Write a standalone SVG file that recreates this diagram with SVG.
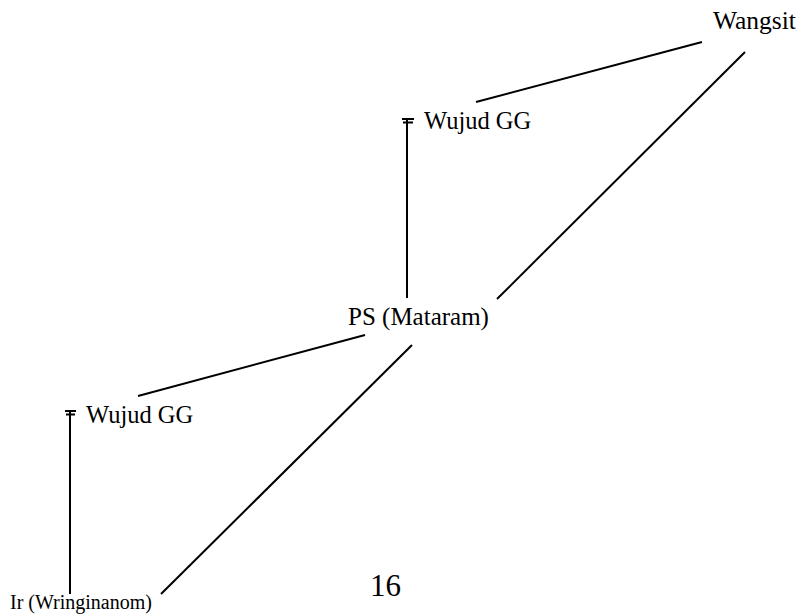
<svg xmlns="http://www.w3.org/2000/svg" width="805" height="614" viewBox="0 0 805 614">
<style>
text{font-family:"Liberation Serif","Times New Roman",serif;fill:#000}
.c line{stroke:#000;stroke-width:2;fill:none}
</style>
<rect width="805" height="614" fill="#fff"/>
<g class="c" id="connectors">
<line x1="476" y1="102" x2="702" y2="42"/>
<line x1="497" y1="299" x2="745" y2="52"/>
<line x1="407" y1="119" x2="407" y2="298"/>
<line x1="402" y1="119" x2="414" y2="119"/>
<line x1="403" y1="122.5" x2="413" y2="122.5"/>
<line x1="365" y1="335" x2="138" y2="396"/>
<line x1="412" y1="345" x2="161" y2="594"/>
<line x1="70" y1="411" x2="70" y2="594"/>
<line x1="65" y1="411" x2="76" y2="411"/>
<line x1="66" y1="414.5" x2="75" y2="414.5"/>
</g>
<g id="wangsit"><text x="713" y="29" font-size="25.5">Wangsit</text></g>
<g id="wujud-top"><text x="424" y="129" font-size="24.5">Wujud GG</text></g>
<g id="ps-mataram"><text x="348" y="325" font-size="25">PS (Mataram)</text></g>
<g id="wujud-bottom"><text x="86" y="423" font-size="24.5">Wujud GG</text></g>
<g id="ir"><text x="10" y="609" font-size="20">Ir (Wringinanom)</text></g>
<g id="page"><text x="370" y="596" font-size="31">16</text></g>
</svg>
